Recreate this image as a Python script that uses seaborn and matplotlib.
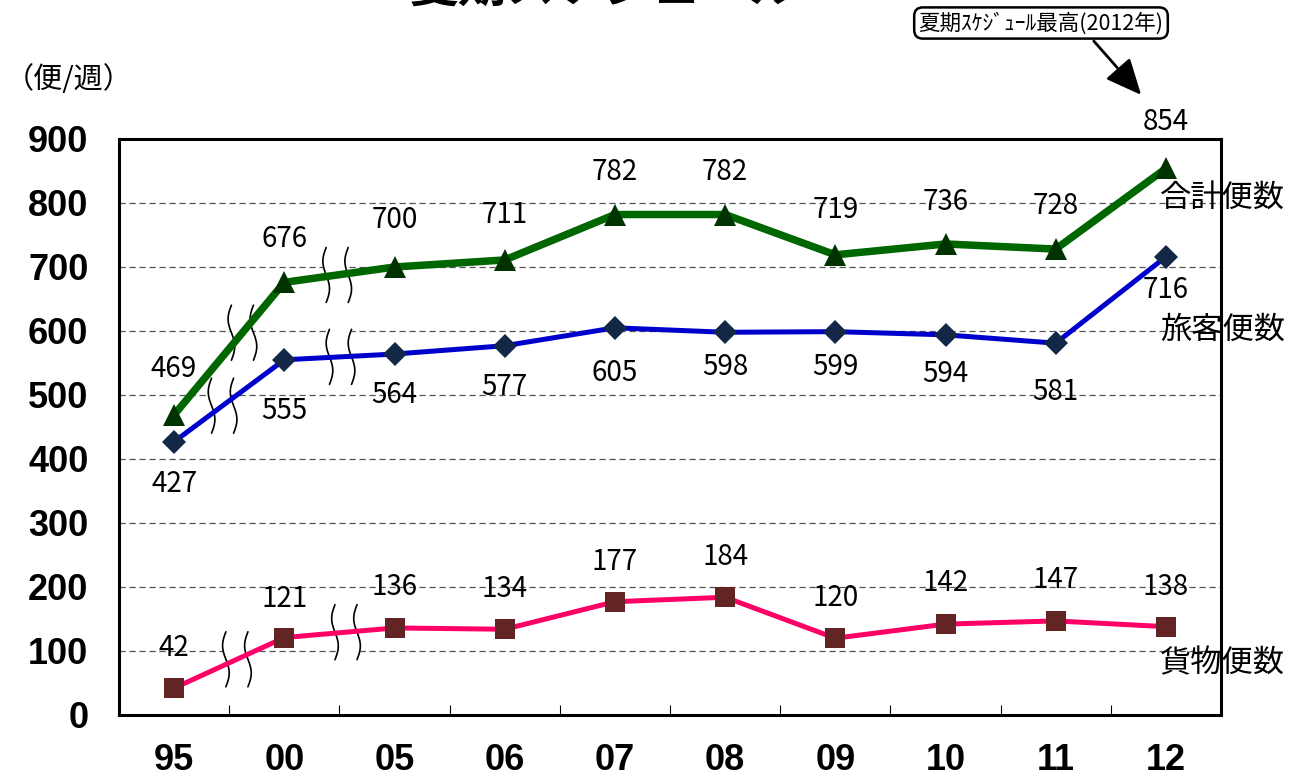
import numpy as np
import matplotlib
matplotlib.use("Agg")
import matplotlib.pyplot as plt
import seaborn as sns

# weekly flights, summer schedule
years = ['95', '00', '05', '06', '07', '08', '09', '10', '11', '12']
total = [469, 676, 700, 711, 782, 782, 719, 736, 728, 854]
passenger = [427, 555, 564, 577, 605, 598, 599, 594, 581, 716]
cargo = [42, 121, 136, 134, 177, 184, 120, 142, 147, 138]

series_names = ['合計便数', '旅客便数', '貨物便数']

# label offsets (pixels, positive = up)
total_off = [46, 43, 47, 45, 43, 43, 45, 42, 43, 46]
pass_off = [-42, -51, -41, -41, -45, -35, -35, -39, -49, -33]
cargo_off = [40, 39, 41, 40, 40, 40, 40, 41, 41, 40]

sns.set_style('white')
plt.rcParams['font.family'] = ['Noto Sans CJK JP', 'DejaVu Sans']
plt.rcParams['text.color'] = 'black'
plt.rcParams['xtick.color'] = 'black'
plt.rcParams['ytick.color'] = 'black'

fig = plt.figure(figsize=(13.02, 7.78), dpi=100)
ax = fig.add_axes([119 / 1302, 63 / 778, 1102 / 1302, 576 / 778])

pos = np.arange(len(years))

sns.lineplot(x=pos, y=total, ax=ax, color='#006600', linewidth=5.4,
             marker='^', markersize=16.5, markerfacecolor='#003300',
             markeredgecolor='#003300', markeredgewidth=0, zorder=3)
sns.lineplot(x=pos, y=passenger, ax=ax, color='#0000CC', linewidth=3.6,
             marker='D', markersize=12.2, markerfacecolor='#132846',
             markeredgecolor='#132846', markeredgewidth=0, zorder=3)
sns.lineplot(x=pos, y=cargo, ax=ax, color='#FF0066', linewidth=3.6,
             marker='s', markersize=13.7, markerfacecolor='#632523',
             markeredgecolor='#632523', markeredgewidth=0, zorder=3)

ax.set_xlim(-0.5, len(years) - 0.5)
ax.set_ylim(0, 900)
ax.set_yticks(range(0, 1000, 100))
ax.set_xticks(pos, years)
ax.set_xticks(pos[:-1] + 0.5, minor=True)
for yv in range(100, 900, 100):
    ax.axhline(yv, color='#555555', linewidth=0.9, linestyle=(0, (5, 3)), zorder=1)

ax.tick_params(axis='y', length=0, pad=22)
ax.tick_params(axis='x', which='major', length=0, pad=20)
ax.tick_params(axis='x', which='minor', direction='in', length=7, width=0.8, color='black', bottom=True)
for lab in ax.get_xticklabels() + ax.get_yticklabels():
    lab.set_fontfamily('Liberation Sans')
    lab.set_fontweight('bold')
    lab.set_fontsize(26)
    lab.set_color('black')
for sp in ax.spines.values():
    sp.set_linewidth(2.2)
    sp.set_color('black')
ax.set_xlabel('')
ax.set_ylabel('')

# value labels
for vals, offs in [(total, total_off), (passenger, pass_off), (cargo, cargo_off)]:
    for x, v, o in zip(pos, vals, offs):
        ax.annotate(str(v), (x, v), xytext=(0, o), textcoords='offset pixels',
                    ha='center', va='center', fontsize=20, color='black', zorder=5)

# axis break marks
def break_mark(bx, vals):
    yc = np.interp(bx, pos, vals)
    t = np.linspace(0, 1, 60)
    yy = yc - 43 + 86 * t
    xl = bx - 0.1 + 0.03 * np.sin(2 * np.pi * t)
    xr = xl + 0.2
    ax.fill_betweenx(yy, xl, xr, color='white', zorder=2.5, linewidth=0)
    ax.plot(xl, yy, color='black', linewidth=1.2, zorder=2.6)
    ax.plot(xr, yy, color='black', linewidth=1.2, zorder=2.6)

for bx in [0.62, 1.48]:
    break_mark(bx, total)
for bx in [0.44, 1.51]:
    break_mark(bx, passenger)
for bx in [0.57, 1.56]:
    break_mark(bx, cargo)

# series names at right
for name, ya in zip(series_names, [0.8976, 0.668, 0.090]):
    ax.text(0.945, ya, name, transform=ax.transAxes, fontsize=22.5,
            ha='left', va='center', zorder=6, clip_on=False)

# unit label
fig.text(5 / 1302, 1 - 80 / 778, '（便/週）', fontsize=21, ha='left', va='center')

# title, partly cut at the top
fig.text(604 / 1302, 1 - 12 / 778, '夏期スケジュール', fontsize=35,
         fontweight='bold', ha='center', va='bottom')

# callout
fig.text(1041 / 1302, 1 - 23 / 778, '夏期ｽｹｼﾞｭｰﾙ最高(2012年)', fontsize=15.5,
         ha='center', va='center',
         bbox=dict(boxstyle='round,pad=0.2,rounding_size=0.4', fc='white', ec='black', lw=1.8))
ax.annotate('', xy=(1143, 778 - 97), xycoords='figure pixels',
            xytext=(1092, 778 - 39), textcoords='figure pixels',
            arrowprops=dict(arrowstyle='-|>,head_length=1.0,head_width=0.45',
                            mutation_scale=22, color='black', lw=2))

fig.savefig('out.png', dpi=100)
